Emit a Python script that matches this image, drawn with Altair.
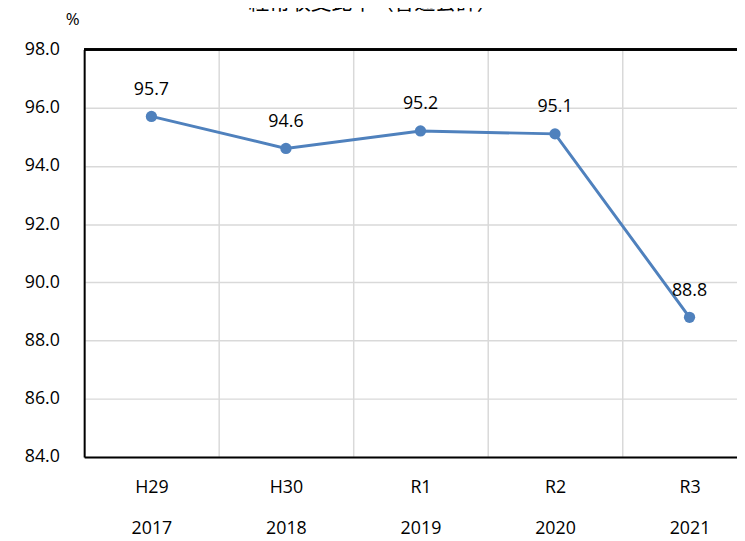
import altair as alt
import pandas as pd

era = ["H29", "H30", "R1", "R2", "R3"]
years = ["2017", "2018", "2019", "2020", "2021"]
ratio = [95.7, 94.6, 95.2, 95.1, 88.8]

df = pd.DataFrame({
    "cat": [f"{e}|{y}" for e, y in zip(era, years)],
    "ratio": ratio,
})

FONT = "Open Sans"
LINE = "#4F81BD"

x = alt.X(
    "cat:N",
    sort=None,
    scale=alt.Scale(range=[0, 680], paddingInner=0, paddingOuter=0),
    axis=alt.Axis(
        title=None,
        labelAngle=0,
        labelExpr="split(datum.label, '|')",
        labelLineHeight=41,
        labelBaseline="top",
        labelPadding=22,
        labelFont=FONT,
        labelFontSize=18,
        labelColor="#000000",
        ticks=False,
        tickBand="extent",
        grid=True,
        gridColor="#d9d9d9",
        gridWidth=1.5,
        domainColor="#000000",
        domainWidth=2,
    ),
)

y = alt.Y(
    "ratio:Q",
    scale=alt.Scale(domain=[84, 98], nice=False, zero=False),
    axis=alt.Axis(
        title="%",
        titleAngle=0,
        titleX=-12,
        titleY=-21,
        titleAlign="center",
        titleBaseline="bottom",
        titleFont=FONT,
        titleFontSize=17,
        titleFontWeight="normal",
        titleColor="#000000",
        values=[84, 86, 88, 90, 92, 94, 96, 98],
        format=".1f",
        labelFont=FONT,
        labelFontSize=18,
        labelColor="#000000",
        labelPadding=25,
        ticks=False,
        grid=True,
        gridColor="#d9d9d9",
        gridWidth=1.5,
        domainColor="#000000",
        domainWidth=2,
    ),
)

base = alt.Chart(df)

line = base.mark_line(color=LINE, strokeWidth=3).encode(x=x, y=y)
pts = base.mark_circle(color=LINE, size=130, opacity=1).encode(x=x, y=y)
labels = base.mark_text(
    dy=-27, baseline="middle", align="center", font=FONT, fontSize=18, color="#000000"
).encode(x=x, y=y, text=alt.Text("ratio:Q", format=".1f"))
top_rule = base.mark_rule(color="#000000", strokeWidth=2).encode(y=alt.datum(98))

chart = (
    alt.layer(top_rule, line, pts, labels)
    .properties(
        width=660,
        height=412,
        title=alt.TitleParams(
            "経常収支比率（普通会計）",
            font="Noto Sans CJK JP",
            fontSize=21,
            fontWeight="normal",
            color="#000000",
            anchor="middle",
            baseline="bottom",
            dx=-38,
            dy=28,
        ),
        autosize=alt.AutoSizeParams(type="none"),
        padding={"left": 77, "top": 39, "right": 0, "bottom": 82},
    )
    .configure_view(stroke=None)
)

chart.save("out.html", embed_options={"renderer": "svg", "actions": False})
